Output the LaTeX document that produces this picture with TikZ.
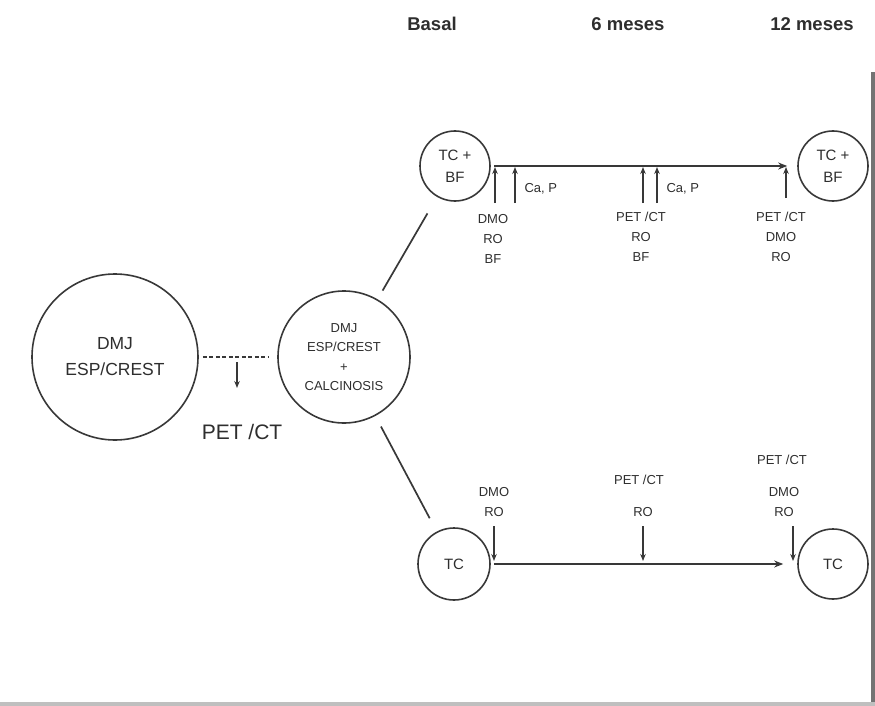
\documentclass[tikz,border=0pt]{standalone}
\usepackage{fontspec}
\setmainfont{Liberation Sans}
\usetikzlibrary{arrows.meta}
\colorlet{inkcol}{black!82}
\colorlet{linecol}{black!78}
\colorlet{scancol}{black!55}
\tikzset{
  every node/.style={text=inkcol},
  stage/.style={circle, draw=linecol, line width=1.6pt, inner sep=0pt, align=center},
  lbl/.style={align=center, font=\fontsize{13}{20}\selectfont},
  header/.style={font=\fontsize{18.5}{22}\selectfont\bfseries},
  tline/.style={-{Stealth[length=9pt,width=7pt]}, line width=1.8pt, draw=linecol},
  tick/.style={-{Stealth[length=7pt,width=5.5pt]}, line width=1.7pt, draw=linecol},
  branch/.style={line width=1.7pt, draw=linecol}
}

\begin{document}
\begin{tikzpicture}[x=1pt, y=-1pt]

  \useasboundingbox (0,0) rectangle (875,706);

  % Scan edges.
  \fill[scancol] (871,72) rectangle (875,706);
  \fill[black!25] (0,702) rectangle (875,706);

  % Time points.
  \node[header] (basal) at (432,24) {Basal};
  \node[header] (m6)    at (628,24) {6 meses};
  \node[header] (m12)   at (812,24) {12 meses};

  % Starting groups.
  \node[stage, minimum size=166pt, font=\fontsize{17.5}{26}\selectfont]
    (dmj) at (115,357) {DMJ\\ESP/CREST};
  \node[stage, minimum size=132pt, font=\fontsize{13}{19.5}\selectfont]
    (calc) at (344,357) {DMJ\\ESP/CREST\\+\\CALCINOSIS};

  \draw[branch, line width=1.3pt, dash pattern=on 4pt off 2.5pt,
        shorten <=4pt, shorten >=8pt] (dmj.east) -- (calc.west);
  \coordinate (pA) at (237,362);
  \coordinate (pB) at (237,388);
  \draw[tick] (pA) -- (pB);
  \node[font=\fontsize{21}{24}\selectfont] (petmain) at (242,432) {PET /CT};

  % Upper branch: TC + BF.
  \node[stage, minimum size=70pt, font=\fontsize{15}{22}\selectfont]
    (tcbfA) at (455,166) {TC +\\BF};
  \node[stage, minimum size=70pt, font=\fontsize{15}{22}\selectfont]
    (tcbfB) at (833,166) {TC +\\BF};
  \draw[branch, shorten <=10pt, shorten >=19pt] (calc) -- (tcbfA);
  \draw[tline, shorten <=3pt, shorten >=10pt] (tcbfA.east) -- (tcbfB.west);

  \foreach \x/\n/\y in {495/a/203, 515/b/203, 643/c/203, 657/d/203, 786/e/198} {
    \coordinate (up\n-s) at (\x,\y);
    \coordinate (up\n-e) at (\x,167);
    \draw[tick] (up\n-s) -- (up\n-e);
  }
  \node[lbl, anchor=west] (caA) at (521,189) {Ca, P};
  \node[lbl, anchor=west] (caB) at (663,189) {Ca, P};

  \node[lbl] (upA) at (493,239) {DMO\\RO\\BF};
  \node[lbl] (upB) at (641,237) {PET /CT\\RO\\BF};
  \node[lbl] (upC) at (781,237) {PET /CT\\DMO\\RO};

  % Lower branch: TC.
  \node[stage, minimum size=72pt, font=\fontsize{15}{22}\selectfont]
    (tcA) at (454,564) {TC};
  \node[stage, minimum size=70pt, font=\fontsize{15}{22}\selectfont]
    (tcB) at (833,564) {TC};
  \draw[branch, shorten <=12pt, shorten >=15pt] (calc) -- (tcA);
  \draw[tline, shorten <=3pt, shorten >=14pt] (tcA.east) -- (tcB.west);

  \foreach \x/\n in {494/a, 643/b, 793/c} {
    \coordinate (dn\n-s) at (\x,526);
    \coordinate (dn\n-e) at (\x,561);
    \draw[tick] (dn\n-s) -- (dn\n-e);
  }

  \node[lbl] (dnA) at (494,502) {DMO\\RO};
  \node[lbl] (dnB1) at (639,480) {PET /CT};
  \node[lbl] (dnB2) at (643,512) {RO};
  \node[lbl] (dnC1) at (782,460) {PET /CT};
  \node[lbl] (dnC2) at (784,502) {DMO\\RO};

\end{tikzpicture}
\end{document}
